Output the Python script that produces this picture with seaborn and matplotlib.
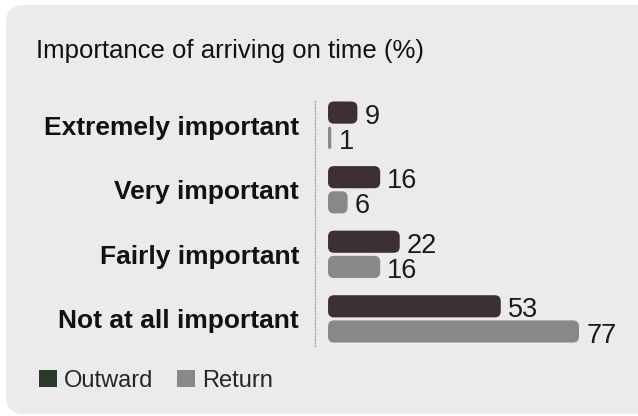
import pandas as pd
import matplotlib.pyplot as plt
import seaborn as sns
from matplotlib.patches import FancyBboxPatch, Patch

# data
categories = ['Extremely important', 'Very important', 'Fairly important', 'Not at all important']
outward = [9, 16, 22, 53]
return_ = [1, 6, 16, 77]
series = ['Outward', 'Return']

df = pd.DataFrame({
    'category': categories * 2,
    'value': outward + return_,
    'trip': ['Outward'] * 4 + ['Return'] * 4,
})

bar_colors = {'Outward': '#3e2e33', 'Return': '#888888'}
legend_colors = ['#2a3a2a', '#888888']
bg = '#ebebeb'

sns.set_style('white')
plt.rcParams['font.family'] = ['Liberation Sans', 'DejaVu Sans']

fig = plt.figure(figsize=(6.38, 4.16), dpi=100)
W, H = 638, 416

# rounded panel behind everything (runs off the right edge)
panel = FancyBboxPatch((6 / W, 2 / H), 660 / W, 409 / H,
                       boxstyle='round,pad=0,rounding_size=0.028',
                       transform=fig.transFigure, facecolor=bg, edgecolor='none',
                       mutation_aspect=W / H, zorder=-10)
fig.patches.append(panel)

ax = fig.add_axes([315 / W, 1 - 346 / H, 307 / W, 246 / H])
ax.set_facecolor('none')
ax.set_zorder(5)

sns.barplot(data=df, x='value', y='category', hue='trip', order=categories,
            hue_order=series, palette=bar_colors, orient='h',
            width=0.78, gap=0.12, legend=False, ax=ax)

ax.set_xlim(-4, 90.2)
ax.set_ylim(3.42, -0.39)

# px per data unit
px_x = 307 / (90.2 + 4)
px_y = 246 / 3.81
r_px = 6

patches = list(ax.patches)
for p in patches:
    x, y, w, h = p.get_x(), p.get_y(), p.get_width(), p.get_height()
    fc = p.get_facecolor()
    p.remove()
    r = min(r_px / px_x, w / 2)
    fb = FancyBboxPatch((x, y), w, h,
                        boxstyle=f'round,pad=0,rounding_size={r}',
                        mutation_aspect=px_x / px_y,
                        facecolor=fc, edgecolor='none', zorder=3)
    ax.add_patch(fb)
    ax.text(x + w + 2.2, y + h, f'{w:g}', ha='left', va='baseline',
            fontsize=19.5, color='#1a1a1a', zorder=4)

ax.set_xlabel('')
ax.set_ylabel('')
ax.set_xticks([])
ax.tick_params(axis='y', length=0, pad=11.5)
for lab in ax.get_yticklabels():
    lab.set_fontweight('bold')
    lab.set_fontsize(19)
    lab.set_color('#111111')

for s in ['top', 'right', 'bottom']:
    ax.spines[s].set_visible(False)
ax.spines['left'].set_linestyle((0, (1, 1.5)))
ax.spines['left'].set_color('#aaaaaa')
ax.spines['left'].set_linewidth(0.9)

fig.text(36 / W, 1 - 58 / H, 'Importance of arriving on time (%)',
         fontsize=18.5, va='baseline', ha='left', color='#111111')

handles = [Patch(facecolor=c, edgecolor='none') for c in legend_colors]
fig.legend(handles, series, loc='center left', bbox_to_anchor=(30 / W, 1 - 381 / H),
           ncol=2, frameon=False, fontsize=17, handlelength=0.75, handleheight=0.75,
           handletextpad=0.3, columnspacing=1.0, borderaxespad=0)

fig.savefig('out.png', dpi=100)
